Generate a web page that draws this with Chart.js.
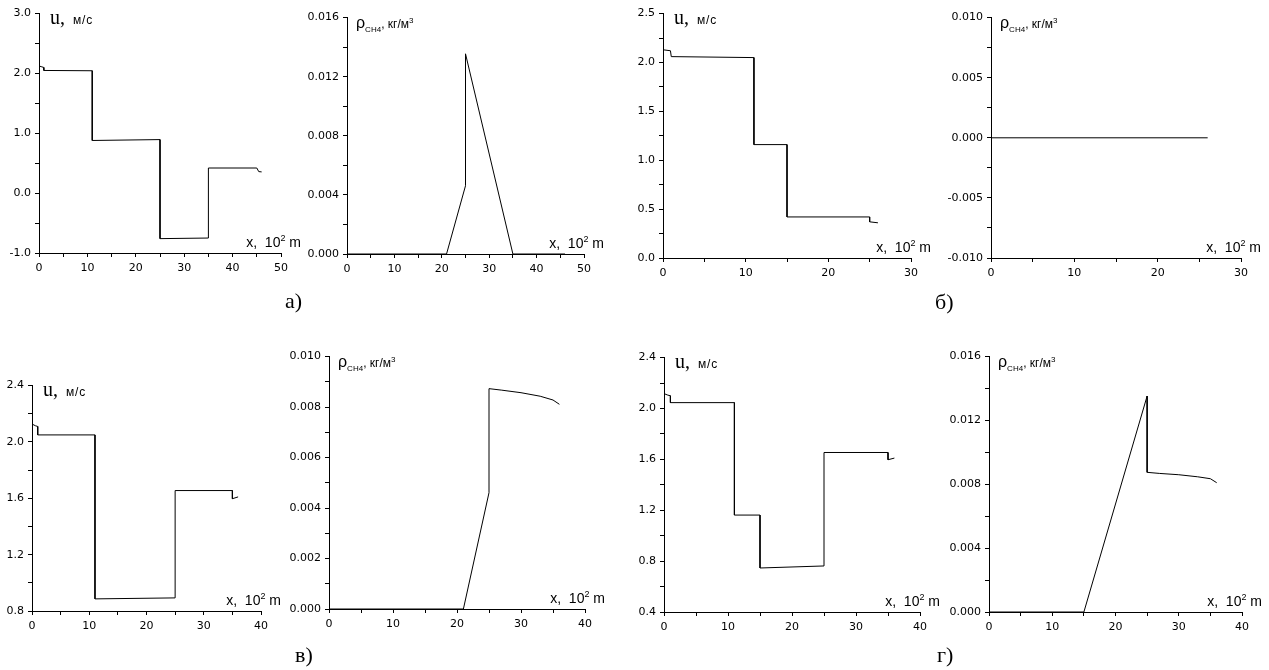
<!DOCTYPE html>
<html>
<head>
<meta charset="utf-8">
<script src="https://cdn.jsdelivr.net/npm/chart.js@4.4.1/dist/chart.umd.min.js"></script>
<style>
  body { margin: 0; background: #fff; width: 1269px; height: 670px; position: relative; overflow: hidden; }
  canvas { position: absolute; }
  .t { position: absolute; white-space: nowrap; color: #000; font-family: "Liberation Sans", Arial, sans-serif; }
  .t sup, .t sub { line-height: 0; }
  .sans { font-family: "Liberation Sans", Arial, sans-serif; }
  .lbl { position: absolute; font-family: "Liberation Serif", "Times New Roman", serif; font-size: 22px; line-height: 22px; color: #000; }
</style>
</head>
<body>
<script>
// а)
const xU_a = [0, 0.6, 1, 1, 11, 11, 25, 25, 35, 35, 45, 45.4, 46];
const u_a = [2.125, 2.11, 2.1, 2.05, 2.045, 0.88, 0.895, -0.76, -0.75, 0.42, 0.42, 0.36, 0.355];
const xR_a = [0, 21, 25, 25, 35, 46];
const rho_a = [0, 0, 0.00462, 0.01355, 0, 0];

// б)
const xU_b = [0, 0.9, 1, 11, 11, 15, 15, 25, 25, 26];
const u_b = [2.13, 2.12, 2.06, 2.05, 1.16, 1.16, 0.42, 0.42, 0.37, 0.36];
const xR_b = [0, 26];
const rho_b = [0, 0];

// в)
const xU_v = [0, 0.6, 1, 1, 11, 11, 25, 25, 35, 35, 36];
const u_v = [2.127, 2.115, 2.11, 2.05, 2.05, 0.886, 0.893, 1.655, 1.655, 1.597, 1.61];
const xR_v = [0, 21, 25, 25, 27, 30, 33, 35, 36];
const rho_v = [0, 0, 0.00461, 0.00873, 0.00867, 0.00857, 0.00843, 0.00828, 0.00811];

// г)
const xU_g = [0, 0.6, 1, 1, 11, 11, 15, 15, 25, 25, 35, 35, 36];
const u_g = [2.117, 2.105, 2.1, 2.046, 2.046, 1.162, 1.162, 0.746, 0.762, 1.654, 1.654, 1.597, 1.61];
const xR_g = [0, 15, 25, 25, 27, 30, 33, 35, 36];
const rho_g = [0, 0, 0.01353, 0.00875, 0.00868, 0.0086, 0.00847, 0.00835, 0.0081];

const panelLabels = ["а)", "б)", "в)", "г)"];

const tickFont = { family: "'DejaVu Sans', sans-serif", size: 11 };

// layout of each small plot (chart area box in page pixels)
const panels = [
  { xs: xU_a, ys: u_a, kind: "u", L: 39, T: 11, R: 281, B: 253, xMax: 50, yMin: -1, yMax: 3, yStep: 0.5, yMajor: 1, dec: 1 },
  { xs: xR_a, ys: rho_a, kind: "rho", L: 347, T: 15, R: 584, B: 254, xMax: 50, yMin: 0, yMax: 0.016, yStep: 0.002, yMajor: 0.004, dec: 3 },
  { xs: xU_b, ys: u_b, kind: "u", L: 663, T: 11, R: 911, B: 258, xMax: 30, yMin: 0, yMax: 2.5, yStep: 0.25, yMajor: 0.5, dec: 1 },
  { xs: xR_b, ys: rho_b, kind: "rho", L: 991, T: 15, R: 1241, B: 258, xMax: 30, yMin: -0.01, yMax: 0.01, yStep: 0.0025, yMajor: 0.005, dec: 3 },
  { xs: xU_v, ys: u_v, kind: "u", L: 32, T: 383, R: 261, B: 611, xMax: 40, yMin: 0.8, yMax: 2.4, yStep: 0.2, yMajor: 0.4, dec: 1 },
  { xs: xR_v, ys: rho_v, kind: "rho", L: 329, T: 354, R: 585, B: 609, xMax: 40, yMin: 0, yMax: 0.01, yStep: 0.001, yMajor: 0.002, dec: 3 },
  { xs: xU_g, ys: u_g, kind: "u", L: 664, T: 355, R: 920, B: 612, xMax: 40, yMin: 0.4, yMax: 2.4, yStep: 0.2, yMajor: 0.4, dec: 1 },
  { xs: xR_g, ys: rho_g, kind: "rho", L: 989, T: 354, R: 1242, B: 612, xMax: 40, yMin: 0, yMax: 0.016, yStep: 0.002, yMajor: 0.004, dec: 3 }
];

const labelPos = [[285, 308], [935, 309], [295, 662], [937, 662]];

function addText(cls, html, style) {
  const d = document.createElement("div");
  d.className = cls;
  d.innerHTML = html;
  Object.assign(d.style, style);
  document.body.appendChild(d);
  return d;
}

function drawPanel(p) {
  const padTop = 8, padRight = 16, yW = 44, xH = 24;
  const w = p.R - p.L + yW + padRight;
  const h = p.B - p.T + padTop + xH;
  const cv = document.createElement("canvas");
  cv.width = w;
  cv.height = h;
  cv.style.left = (p.L - yW) + "px";
  cv.style.top = (p.T - padTop) + "px";
  document.body.appendChild(cv);

  new Chart(cv, {
    type: "scatter",
    data: {
      datasets: [{
        data: p.xs.map(function(x, i) { return { x: x, y: p.ys[i] }; }),
        showLine: true,
        borderColor: "#000",
        borderWidth: 1,
        pointRadius: 0,
        fill: false,
        tension: 0
      }]
    },
    options: {
      responsive: false,
      animation: false,
      layout: { padding: { top: padTop, right: padRight, left: 0, bottom: 0 } },
      plugins: { legend: { display: false }, tooltip: { enabled: false } },
      scales: {
        x: {
          type: "linear",
          min: 0,
          max: p.xMax,
          afterFit: function(s) { s.height = xH; },
          ticks: {
            stepSize: 5,
            autoSkip: false,
            maxRotation: 0,
            padding: 5,
            color: "#000",
            font: tickFont,
            callback: function(v) { return Math.round(v) % 10 === 0 ? String(Math.round(v)) : ""; }
          },
          grid: { drawOnChartArea: false, tickLength: 4, color: "#000" },
          border: { color: "#000", width: 1 }
        },
        y: {
          type: "linear",
          min: p.yMin,
          max: p.yMax,
          afterFit: function(s) { s.width = yW; },
          ticks: {
            stepSize: p.yStep,
            autoSkip: false,
            padding: 4,
            color: "#000",
            font: tickFont,
            callback: function(v) {
              const k = v / p.yMajor;
              return Math.abs(k - Math.round(k)) < 1e-6 ? v.toFixed(p.dec) : "";
            }
          },
          grid: { drawOnChartArea: false, tickLength: 4, color: "#000" },
          border: { color: "#000", width: 1 }
        }
      }
    }
  });

  // axis titles
  if (p.kind === "u") {
    addText("t",
      '<span style="font-size:20px;line-height:20px">u,</span>' +
      '<span class="sans" style="font-size:12px;line-height:20px;margin-left:8px;letter-spacing:0.8px">м/с</span>',
      { left: (p.L + 11) + "px", top: (p.T + 13 - 16.75) + "px", fontSize: "20px", lineHeight: "20px",
        fontFamily: "'Liberation Serif', serif" });
  } else {
    addText("t",
      '<span style="font-size:16px">ρ</span><sub style="font-size:8px">CH4</sub>' +
      '<span style="font-size:12px">, кг/м<sup style="font-size:8px">3</sup></span>',
      { left: (p.L + 9) + "px", top: (p.T + 13 - 13.3) + "px", fontSize: "16px", lineHeight: "16px" });
  }
  addText("t", 'x,&nbsp; 10<sup style="font-size:9px">2</sup>&nbsp;m',
    { right: (1269 - (p.R + 20)) + "px", top: (p.B - 6 - 11.6) + "px", fontSize: "14px", lineHeight: "14px" });
}

panels.forEach(drawPanel);

panelLabels.forEach(function(txt, i) {
  addText("lbl", txt, { left: labelPos[i][0] + "px", top: (labelPos[i][1] - 18.4) + "px" });
});
</script>
</body>
</html>
